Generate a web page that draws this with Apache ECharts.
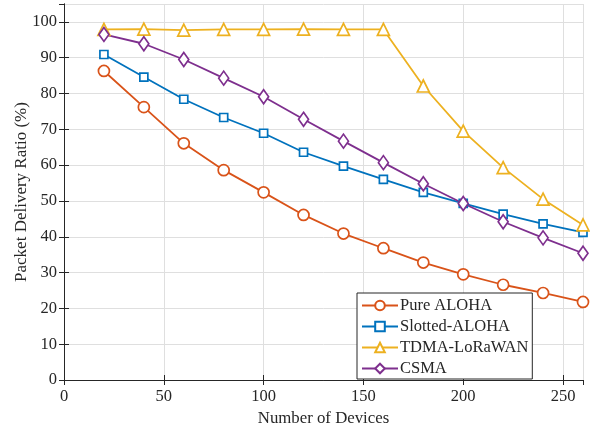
<!DOCTYPE html>
<html>
<head>
<meta charset="utf-8">
<script src="https://cdn.jsdelivr.net/npm/echarts@6/dist/echarts.min.js"></script>
<style>
  html, body { margin: 0; padding: 0; background: #fff; }
  #chart { width: 590px; height: 432px; }
</style>
</head>
<body>
<div id="chart"></div>
<script>
const devices = [20, 40, 60, 80, 100, 120, 140, 160, 180, 200, 220, 240, 260]
const pureAloha = [86.3, 76.2, 66.1, 58.6, 52.4, 46.1, 40.9, 36.8, 32.8, 29.5, 26.6, 24.3, 21.8]
const slottedAloha = [90.9, 84.6, 78.4, 73.3, 68.9, 63.6, 59.7, 56.0, 52.4, 49.3, 46.3, 43.6, 41.2]
const tdmaLora = [97.9, 98.0, 97.7, 97.9, 97.9, 98.0, 97.9, 97.9, 82.1, 69.5, 59.3, 50.5, 43.3]
const csma = [96.5, 93.9, 89.5, 84.3, 79.1, 72.8, 66.7, 60.7, 54.8, 49.3, 44.2, 39.7, 35.4]

const font = "'Liberation Serif', 'Times New Roman', serif"
const ink = '#262626'

const chart = echarts.init(document.getElementById('chart'))

const pairs = (ys) => devices.map((x, i) => [x, ys[i]])

const mkSeries = (name, ys, color, symbol, size) => ({
  name,
  type: 'line',
  data: pairs(ys),
  symbol,
  symbolSize: size,
  showAllSymbol: true,
  lineStyle: { color, width: 1.8 },
  itemStyle: { color: '#fff', borderColor: color, borderWidth: 1.7 },
  emphasis: { disabled: true }
})

const baseAxis = {
  axisLine: { show: true, lineStyle: { color: ink, width: 1 } },
  axisTick: { show: true, inside: true, length: 5, lineStyle: { color: ink } },
  axisLabel: { color: ink, fontFamily: font, fontSize: 16.5, showMaxLabel: false },
  splitLine: { show: true, lineStyle: { color: '#dfdfdf', width: 1 } }
}

chart.setOption({
  animation: false,
  grid: { left: 64, right: 7, top: 4, bottom: 52 },
  xAxis: [
    {
      ...baseAxis,
      type: 'value',
      min: 0, max: 260, interval: 50,
      name: 'Number of Devices',
      nameLocation: 'middle',
      nameGap: 25,
      nameTextStyle: { color: ink, fontFamily: font, fontSize: 16.8 },
      axisLabel: { ...baseAxis.axisLabel, margin: 8 }
    },
    {
      ...baseAxis,
      type: 'value', position: 'top',
      min: 0, max: 260, interval: 50,
      axisLabel: { show: false },
      splitLine: { show: false }
    }
  ],
  yAxis: [
    {
      ...baseAxis,
      type: 'value',
      min: 0, max: 105, interval: 10,
      name: 'Packet Delivery Ratio (%)',
      nameLocation: 'middle',
      nameGap: 34,
      nameMoveOverlap: false,
      nameTextStyle: { color: ink, fontFamily: font, fontSize: 17 },
      axisLabel: { ...baseAxis.axisLabel, margin: 7 }
    },
    {
      ...baseAxis,
      type: 'value', position: 'right',
      min: 0, max: 105, interval: 10,
      axisLabel: { show: false },
      splitLine: { show: false }
    }
  ],
  legend: {
    orient: 'vertical',
    left: 357,
    top: 293,
    padding: [4, 4, 2, 4],
    itemWidth: 36,
    itemHeight: 12,
    itemGap: 4,
    backgroundColor: '#fff',
    borderColor: ink,
    borderWidth: 1,
    borderRadius: 0,
    textStyle: { color: ink, fontFamily: font, fontSize: 16.5, padding: [0, 0, 0, -3] },
    data: ['Pure ALOHA', 'Slotted-ALOHA', 'TDMA-LoRaWAN', 'CSMA']
  },
  series: [
    mkSeries('Pure ALOHA', pureAloha, '#D95319', 'circle', 11),
    mkSeries('Slotted-ALOHA', slottedAloha, '#0072BD', 'rect', 8),
    mkSeries('TDMA-LoRaWAN', tdmaLora, '#EDB120', 'triangle', 12),
    mkSeries('CSMA', csma, '#7E2F8E', 'diamond', [10, 14])
  ]
})
</script>
</body>
</html>
